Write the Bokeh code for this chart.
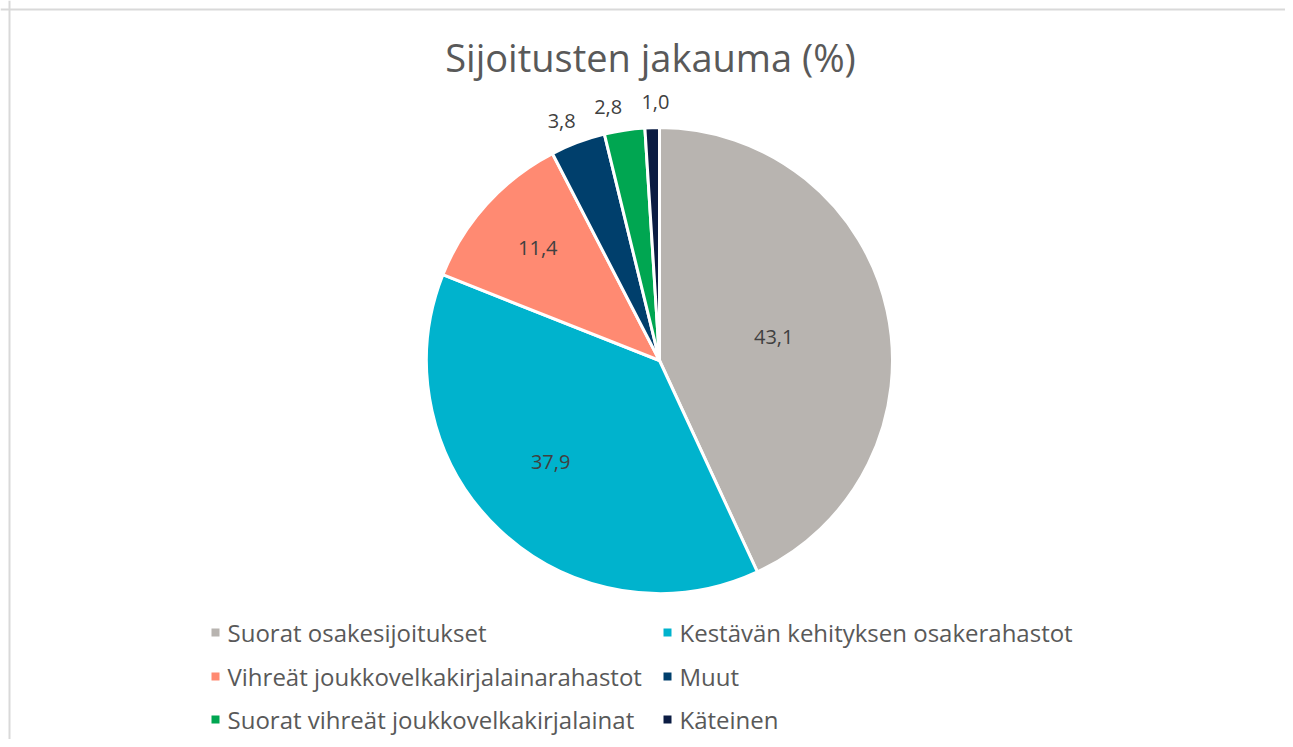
import math
from bokeh.plotting import figure
from bokeh.models import Range1d, Span, ColumnDataSource
from bokeh.core.properties import value
from bokeh.embed import file_html
from bokeh.resources import INLINE

# ---- data ----
title_text = "Sijoitusten jakauma (%)"
categories = [
    "Suorat osakesijoitukset",
    "Kestävän kehityksen osakerahastot",
    "Vihreät joukkovelkakirjalainarahastot",
    "Muut",
    "Suorat vihreät joukkovelkakirjalainat",
    "Käteinen",
]
values = [43.1, 37.9, 11.4, 3.8, 2.8, 1.0]
value_labels = ["43,1", "37,9", "11,4", "3,8", "2,8", "1,0"]
colors = ["#B8B4B0", "#00B3CD", "#FF8A72", "#003F6C", "#00A651", "#0B1C43"]

# ---- layout ----
W, H = 1285, 739
FONT = "Open Sans"
TXT = "#595959"


def Y(img_y):
    return H - img_y


cx, cy, R = 659, Y(360), 233
label_r = [0.50, 0.64, 0.71, 1.11, 1.11, 1.11]
label_dang = [1.0, 3.5, 0.5, -1.7, -2.8, 0.9]

p = figure(width=W, height=H, x_range=Range1d(0, W), y_range=Range1d(0, H),
           output_backend="svg", toolbar_location=None, min_border=0,
           outline_line_color=None, background_fill_color="white",
           border_fill_color="white")
p.axis.visible = False
p.grid.visible = False

# chart border (top & left visible)
p.add_layout(Span(location=Y(9), dimension="width", line_color="#D9D9D9", line_width=2))
p.add_layout(Span(location=9, dimension="height", line_color="#D9D9D9", line_width=2))

total = sum(values)
starts, ends, lx, ly = [], [], [], []
cum = 0.0
for i, v in enumerate(values):
    a0 = math.pi / 2 - 2 * math.pi * cum / total
    cum += v
    a1 = math.pi / 2 - 2 * math.pi * cum / total
    starts.append(a0)
    ends.append(a1)
    mid = (a0 + a1) / 2 - math.radians(label_dang[i])
    lx.append(cx + R * label_r[i] * math.cos(mid))
    ly.append(cy + R * label_r[i] * math.sin(mid))

src = ColumnDataSource(dict(start=starts, end=ends, color=colors, cat=categories,
                            lx=lx, ly=ly, lab=value_labels))
p.wedge(x=cx, y=cy, radius=R, start_angle="start", end_angle="end", direction="clock",
        fill_color="color", line_color="white", line_width=3, source=src)

p.text(x="lx", y="ly", text="lab", source=src, text_font=value(FONT),
       text_font_size="20px", text_color="#404040", text_align="center",
       text_baseline="middle")

# title
p.text(x=[650], y=[Y(56)], text=[title_text], text_font=value(FONT),
       text_font_size="38px", text_color=TXT, text_align="center",
       text_baseline="middle")

# legend (2 columns)
col_x = [215, 667]
row_y = [Y(632), Y(676), Y(719)]
mx, my, tx, ty = [], [], [], []
for i, c in enumerate(categories):
    col, row = i % 2, i // 2
    mx.append(col_x[col])
    my.append(row_y[row])
    tx.append(col_x[col] + 12)
    ty.append(row_y[row])
lsrc = ColumnDataSource(dict(mx=mx, my=my, tx=tx, ty=ty, cat=categories, color=colors))
p.scatter(x="mx", y="my", marker="square", size=8, fill_color="color", line_color=None, source=lsrc)
p.text(x="tx", y="ty", text="cat", source=lsrc, text_font=value(FONT),
       text_font_size="24px", text_color=TXT, text_align="left", text_baseline="middle")

open("out.html", "w").write(file_html(p, INLINE))
